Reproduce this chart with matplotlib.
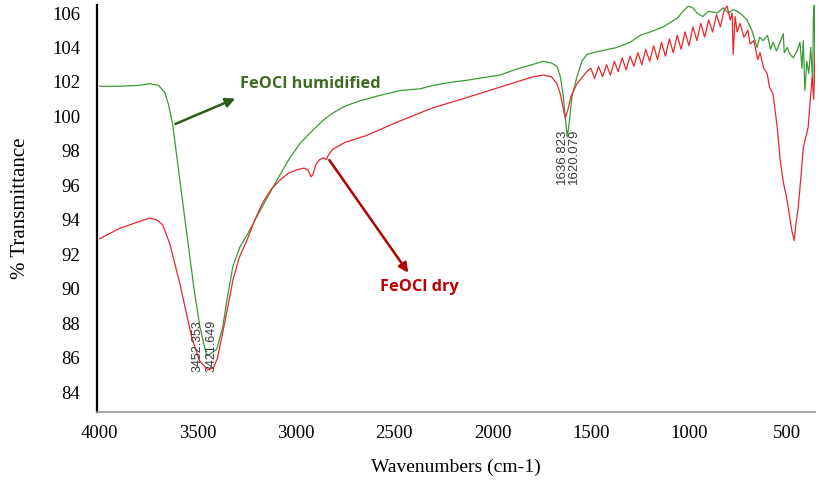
import matplotlib
matplotlib.use("Agg")
import matplotlib.pyplot as plt

# FeOCl humidified (green) - wavenumber, %T
hum_x = [4000, 3900, 3800, 3745, 3700, 3669, 3650, 3628, 3600, 3560, 3520, 3490, 3470, 3455,
         3440, 3404, 3373, 3353, 3322, 3287, 3246, 3185, 3098, 3032, 2975, 2915, 2860, 2813,
         2750, 2676, 2580, 2472, 2370, 2304, 2200, 2130, 2050, 1962, 1876, 1800, 1743, 1700,
         1672, 1655, 1641, 1630, 1620, 1610, 1595, 1570, 1545, 1520, 1450, 1367, 1300, 1249,
         1198, 1130, 1060, 1030, 1004, 980, 959, 930, 900, 857, 826, 800, 775, 755, 730, 704,
         680, 653, 640, 623, 600, 585, 572, 555, 540, 520, 515, 500, 485, 469, 450, 435, 425,
         418, 410, 400, 390, 380, 370, 367, 362, 358]
hum_y = [101.75, 101.75, 101.8, 101.9, 101.8, 101.4, 100.7, 99.5, 97.0, 93.5, 90.0, 87.8, 86.8, 86.1,
         86.2, 86.5, 87.8, 89.3, 91.3, 92.4, 93.2, 94.5, 96.3, 97.6, 98.5, 99.2, 99.8, 100.2,
         100.6, 100.9, 101.2, 101.5, 101.6, 101.8, 102.0, 102.1, 102.25, 102.4, 102.75, 103.0, 103.2, 103.1,
         102.9, 102.3, 101.3, 100.0, 98.8, 99.6, 101.2, 102.3, 103.2, 103.6, 103.8, 104.0, 104.3, 104.7,
         104.9, 105.2, 105.7, 106.1, 106.4, 106.3, 106.0, 105.8, 106.1, 106.0, 106.3, 106.0, 106.2, 106.1, 105.9, 105.6,
         105.0, 104.0, 104.6, 104.4, 104.7, 103.9, 104.3, 103.8, 104.2, 104.8, 103.7, 104.0, 103.6, 103.4, 103.8, 104.3, 102.8,
         104.4, 101.5, 103.2, 102.5, 104.0, 101.9, 105.6, 106.5, 101.9]

# FeOCl dry (red)
dry_x = [4000, 3900, 3800, 3745, 3710, 3679, 3643, 3592, 3532, 3491, 3450, 3421, 3400, 3373,
         3340, 3322, 3290, 3251, 3210, 3170, 3125, 3083, 3040, 2997, 2960, 2940, 2925, 2915,
         2900, 2880, 2860, 2845, 2839, 2813, 2750, 2640, 2500, 2370, 2304, 2130, 1962, 1794,
         1743, 1700, 1672, 1655, 1641, 1630, 1616, 1600, 1570, 1520,
         1500, 1480, 1460, 1440, 1420, 1400, 1380, 1360, 1340, 1320, 1300, 1280, 1260, 1240,
         1220, 1200, 1180, 1160, 1140, 1120, 1100, 1080, 1060, 1040, 1020, 1000, 980, 960,
         940, 920, 900, 880, 860, 840, 820, 806, 790, 780, 775, 765, 755, 740, 720, 700,
         689, 670, 650, 638, 620, 602, 590, 572, 560, 551, 536, 520, 500, 485, 475, 464,
         455, 444, 430, 418, 405, 393, 383, 373, 365, 358]
dry_y = [92.9, 93.5, 93.9, 94.1, 94.0, 93.7, 92.6, 90.3, 87.2, 85.8, 85.3, 85.4, 86.0, 87.5,
         89.4, 90.5, 91.8, 92.8, 94.0, 95.0, 95.8, 96.3, 96.7, 96.9, 97.0, 96.9, 96.5, 96.6,
         97.2, 97.5, 97.6, 97.5, 97.7, 98.1, 98.5, 98.9, 99.6, 100.2, 100.5, 101.1, 101.7, 102.3,
         102.4, 102.3, 101.9, 101.3, 100.5, 99.9, 100.4, 101.2, 101.9, 102.6,
         102.8, 102.2, 102.9, 102.3, 103.0, 102.4, 103.2, 102.6, 103.4, 102.7, 103.5, 102.9, 103.7, 103.0,
         103.9, 103.2, 104.1, 103.3, 104.3, 103.5, 104.5, 103.7, 104.7, 103.9, 104.9, 104.1, 105.2, 104.4,
         105.4, 104.6, 105.6, 104.9, 105.9, 105.2, 106.2, 106.4, 105.6, 106.0, 103.6, 105.8, 104.9, 105.4, 104.6, 105.0,
         104.2, 104.4, 103.3, 103.7, 102.8, 102.5, 101.7, 101.3, 100.2, 99.4, 97.5, 96.2, 95.1, 94.0, 93.3, 92.8,
         93.8, 94.7, 96.5, 98.2, 98.8, 99.4, 100.9, 102.3, 101.0, 103.7]

y_ticks = list(range(84, 107, 2))
x_ticks = [4000, 3500, 3000, 2500, 2000, 1500, 1000, 500]

fig = plt.figure(figsize=(8.2, 4.93), dpi=100)
ax = fig.add_axes([0.118, 0.164, 0.876, 0.826])

ax.plot(hum_x, hum_y, color='#3a9a35', lw=0.9)
ax.plot(dry_x, dry_y, color='#e8282a', lw=0.9)

ax.set_xlim(4015, 358)
ax.set_ylim(82.84, 106.47)
ax.set_xticks(x_ticks)
ax.set_yticks(y_ticks)
ax.tick_params(length=0, labelsize=13.5)
ax.tick_params(axis='y', pad=12)
ax.tick_params(axis='x', pad=9)
for lab in ax.get_xticklabels() + ax.get_yticklabels():
    lab.set_family('Liberation Serif')

ax.spines['top'].set_visible(False)
ax.spines['right'].set_visible(False)
ax.spines['left'].set_linewidth(1.6)
ax.spines['bottom'].set_color('#999999')
ax.spines['bottom'].set_linewidth(1.2)

ax.set_xlabel('Wavenumbers (cm-1)', family='Liberation Serif', fontsize=14, labelpad=12)
ax.set_ylabel('% Transmittance', family='Liberation Serif', fontsize=15, labelpad=16)

# series labels with arrows
ax.text(3287, 101.9, 'FeOCl humidified', color='#3d6b22', fontweight='bold',
        family='Open Sans', fontsize=11.8, ha='left', va='center')
ax.annotate('', xy=(3297, 101.1), xytext=(3628, 99.5),
            arrowprops=dict(arrowstyle='-|>', color='#2d5a1b', lw=1.8, mutation_scale=14))
ax.text(2574, 90.1, 'FeOCl dry', color='#c00000', fontweight='bold',
        family='Open Sans', fontsize=11.8, ha='left', va='center')
ax.annotate('', xy=(2421, 90.8), xytext=(2839, 97.6),
            arrowprops=dict(arrowstyle='-|>', color='#b00000', lw=1.8, mutation_scale=14))

# peak labels
peaks = [(3501, 88.2, '3452.353', 9), (3430, 88.2, '3421.649', 9),
         (1645, 99.3, '1636.823', 9.5), (1584, 99.3, '1620.079', 9.5)]
for px, py, txt, fs in peaks:
    ax.text(px, py, txt, rotation=90, ha='center', va='top', fontsize=fs,
            family='Liberation Sans', color='#3a3a3a')

fig.savefig('out.png', dpi=100)
